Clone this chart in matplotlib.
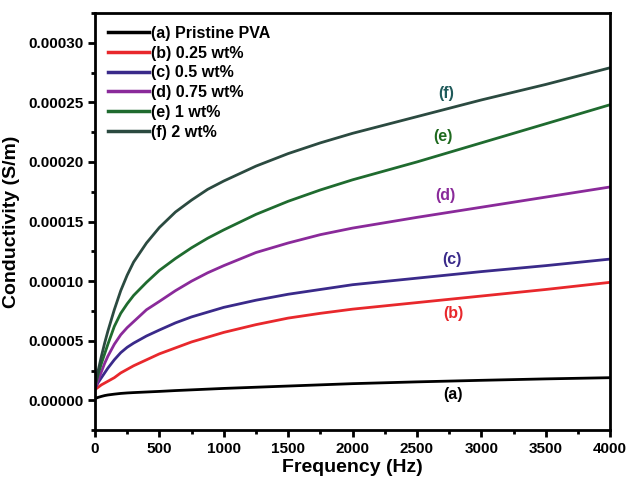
import numpy as np
import matplotlib
matplotlib.use("Agg")
import matplotlib.pyplot as plt
from matplotlib.ticker import MultipleLocator, FormatStrFormatter

plt.rcParams['font.family'] = ['Liberation Sans', 'DejaVu Sans']
plt.rcParams['font.weight'] = 'bold'

# frequency (Hz) and conductivity in units of 1e-5 S/m
freq = [0, 25, 50, 75, 100, 150, 200, 250, 300, 400, 500, 625, 750, 875, 1000,
        1250, 1500, 1750, 2000, 2500, 3000, 3500, 4000]
cond_a = [0.15, 0.25, 0.33, 0.40, 0.45, 0.52, 0.58, 0.62, 0.65, 0.70, 0.75, 0.82, 0.88, 0.94, 1.00,
          1.10, 1.20, 1.30, 1.40, 1.55, 1.68, 1.80, 1.90]
cond_b = [0.9, 1.1, 1.3, 1.45, 1.6, 1.9, 2.3, 2.6, 2.9, 3.4, 3.9, 4.4, 4.9, 5.3, 5.7,
          6.35, 6.9, 7.3, 7.65, 8.2, 8.75, 9.3, 9.9]
cond_c = [1.0, 1.5, 1.9, 2.3, 2.7, 3.4, 4.0, 4.45, 4.8, 5.4, 5.9, 6.5, 7.0, 7.4, 7.8,
          8.4, 8.9, 9.3, 9.7, 10.25, 10.8, 11.3, 11.85]
cond_d = [1.0, 1.7, 2.4, 3.1, 3.7, 4.7, 5.5, 6.1, 6.6, 7.6, 8.3, 9.2, 10.0, 10.7, 11.3,
          12.4, 13.2, 13.9, 14.45, 15.35, 16.2, 17.05, 17.9]
cond_e = [1.2, 2.2, 3.1, 3.9, 4.7, 6.2, 7.3, 8.1, 8.8, 9.9, 10.9, 11.9, 12.8, 13.6, 14.3,
          15.6, 16.7, 17.65, 18.5, 20.0, 21.6, 23.2, 24.8]
cond_f = [1.2, 2.5, 3.7, 4.8, 5.8, 7.6, 9.2, 10.5, 11.6, 13.2, 14.5, 15.8, 16.8, 17.7, 18.4,
          19.65, 20.7, 21.6, 22.4, 23.8, 25.2, 26.5, 27.9]

labels = ["(a) Pristine PVA", "(b) 0.25 wt%", "(c) 0.5 wt%", "(d) 0.75 wt%", "(e) 1 wt%", "(f) 2 wt%"]
colors = ["#000000", "#e8282c", "#3a2a8a", "#8a2a9a", "#1f6b2f", "#2b4a40"]
tags = ["(a)", "(b)", "(c)", "(d)", "(e)", "(f)"]
tag_colors = ["#000000", "#e8282c", "#3a2a8a", "#8a2a9a", "#1f6a1f", "#1f5a5a"]
tag_x = [2780, 2780, 2770, 2720, 2700, 2730]
tag_y = [0.5, 7.3, 11.8, 17.2, 22.1, 25.7]

series = [cond_a, cond_b, cond_c, cond_d, cond_e, cond_f]

fig = plt.figure(figsize=(6.29, 4.79), dpi=100)
ax = fig.add_axes([0.151, 0.102, 0.819, 0.871])

for s, lab, c in zip(series, labels, colors):
    ax.plot(freq, np.array(s) * 1e-5, color=c, lw=2.0, label=lab)

for t, c, x, y in zip(tags, tag_colors, tag_x, tag_y):
    ax.text(x, y * 1e-5, t, color=c, fontsize=11.5, fontweight='bold',
            ha='center', va='center')

ax.set_xlim(0, 4000)
ax.set_ylim(-0.000025, 0.000325)
ax.xaxis.set_major_locator(MultipleLocator(500))
ax.xaxis.set_minor_locator(MultipleLocator(250))
ax.yaxis.set_major_locator(MultipleLocator(0.00005))
ax.yaxis.set_minor_locator(MultipleLocator(0.000025))
ax.yaxis.set_major_formatter(FormatStrFormatter('%.5f'))

for sp in ax.spines.values():
    sp.set_linewidth(2.0)
ax.tick_params(which='major', length=5, width=2, labelsize=11)
ax.tick_params(which='minor', length=3, width=2)
for lab in ax.get_xticklabels() + ax.get_yticklabels():
    lab.set_fontweight('bold')

ax.set_xlabel("Frequency (Hz)", fontsize=14, fontweight='bold', labelpad=2)
ax.set_ylabel("Conductivity (S/m)", fontsize=14, fontweight='bold', labelpad=6)

leg = ax.legend(loc='upper left', frameon=False, fontsize=11.5, handlelength=2.6,
                handletextpad=0.1, labelspacing=0.3, borderaxespad=0.4,
                bbox_to_anchor=(0.0, 1.0))
for t in leg.get_texts():
    t.set_fontweight('bold')
for l in leg.get_lines():
    l.set_linewidth(2.5)

fig.savefig("out.png", dpi=100)
